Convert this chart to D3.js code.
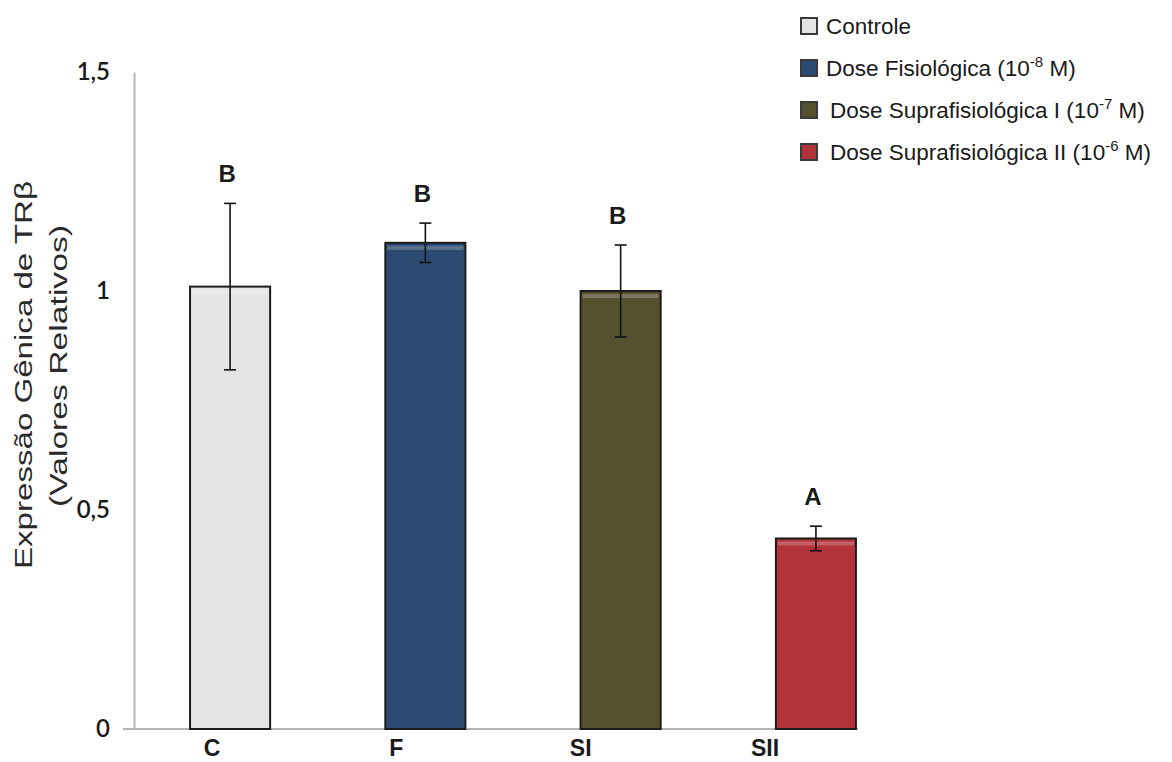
<!DOCTYPE html>
<html>
<head>
<meta charset="utf-8">
<script src="https://cdn.jsdelivr.net/npm/d3@7"></script>
<style>
    body { margin: 0; background: #fff; }
    svg { display: block; }
</style>
</head>
<body>
<div id="chart"></div>
<script>
/* * * * * * * * * * * * * * * * * * *
*      TRβ GENE EXPRESSION BARS      *
* * * * * * * * * * * * * * * * * * */

// data
const categories = ["C", "F", "SI", "SII"];
const means = [1.01, 1.11, 1.00, 0.435];
const errors = [0.19, 0.045, 0.105, 0.028];
const letters = ["B", "B", "B", "A"];
const yTicks = [0, 0.5, 1, 1.5];
const yTickLabels = ["0", "0,5", "1", "1,5"];
const legendNames = ["Controle", "Dose Fisiológica (10", "Dose Suprafisiológica I (10", "Dose Suprafisiológica II (10"];
const legendExps = ["", "-8", "-7", "-6"];

// styles
const barColors = ["#e4e4e4", "#2a4a72", "#55512f", "#b2333a"];

class ExpressionChart {
    constructor(parentElement) {
        this.parentElement = parentElement;
        this.initVis();
    }

    initVis() {
        const vis = this;

        vis.width = 1172;
        vis.height = 762;

        vis.svg = d3.select(`#${vis.parentElement}`)
            .append("svg")
            .attr("width", vis.width)
            .attr("height", vis.height);

        // Scales
        vis.x = d3.scaleBand()
            .domain(categories)
            .range([134, 912])
            .paddingInner(0.59)
            .paddingOuter(0.287);

        vis.y = d3.scaleLinear()
            .domain([0, 1.5])
            .range([729, 72]);

        // category labels sit a bit left of the bars in the original
        vis.xLabel = d3.scalePoint()
            .domain(categories)
            .range([212, 765]);

        // Y axis
        const yAxis = vis.svg.append("g")
            .attr("transform", "translate(134,0)")
            .call(d3.axisLeft(vis.y)
                .tickValues(yTicks)
                .tickFormat((d, i) => yTickLabels[i])
                .tickSize(0)
                .tickPadding(24));

        yAxis.select(".domain")
            .attr("stroke", "#b5b5b5")
            .attr("stroke-width", 2);

        yAxis.selectAll("text")
            .attr("font-family", "Lato, 'Open Sans', sans-serif")
            .attr("font-size", 24)
            .attr("font-weight", 600)
            .attr("fill", "#1a1a1a");

        // baseline
        vis.svg.append("line")
            .attr("x1", 123)
            .attr("x2", vis.x("SII") + vis.x.bandwidth() + 2)
            .attr("y1", vis.y(0))
            .attr("y2", vis.y(0))
            .attr("stroke", "#b5b5b5")
            .attr("stroke-width", 2);

        // Bars
        vis.svg.selectAll(".bar")
            .data(categories)
            .join("rect")
            .attr("class", "bar")
            .attr("x", d => vis.x(d))
            .attr("y", (d, i) => vis.y(means[i]))
            .attr("width", vis.x.bandwidth())
            .attr("height", (d, i) => vis.y(0) - vis.y(means[i]))
            .attr("fill", (d, i) => barColors[i])
            .attr("stroke", "#1c1c1c")
            .attr("stroke-width", 2);

        // light strip under bar tops
        vis.svg.selectAll(".shine")
            .data(categories)
            .join("rect")
            .attr("class", "shine")
            .attr("x", d => vis.x(d) + 2)
            .attr("y", (d, i) => vis.y(means[i]) + 3)
            .attr("width", vis.x.bandwidth() - 4)
            .attr("height", 4)
            .attr("fill", "#fff")
            .attr("opacity", 0.22);

        // Error bars
        const cx = d => vis.x(d) + vis.x.bandwidth() / 2;
        const err = vis.svg.append("g")
            .attr("stroke", "#111")
            .attr("stroke-width", 1.6);

        err.selectAll(".stem")
            .data(categories)
            .join("line")
            .attr("x1", cx)
            .attr("x2", cx)
            .attr("y1", (d, i) => vis.y(means[i] + errors[i]))
            .attr("y2", (d, i) => vis.y(means[i] - errors[i]));

        [1, -1].forEach(s => {
            err.selectAll(null)
                .data(categories)
                .join("line")
                .attr("x1", d => cx(d) - 6)
                .attr("x2", d => cx(d) + 6)
                .attr("y1", (d, i) => vis.y(means[i] + s * errors[i]))
                .attr("y2", (d, i) => vis.y(means[i] + s * errors[i]));
        });

        // significance letters
        vis.svg.selectAll(".sig")
            .data(categories)
            .join("text")
            .attr("class", "sig")
            .attr("x", d => cx(d) - 3)
            .attr("y", (d, i) => vis.y(means[i] + errors[i]) - 21)
            .attr("text-anchor", "middle")
            .attr("font-family", "'Liberation Sans', Arial, sans-serif")
            .attr("font-weight", "bold")
            .attr("font-size", 24)
            .attr("fill", "#1a1a1a")
            .text((d, i) => letters[i]);

        // category labels
        vis.svg.selectAll(".cat")
            .data(categories)
            .join("text")
            .attr("class", "cat")
            .attr("x", d => vis.xLabel(d))
            .attr("y", 756)
            .attr("text-anchor", "middle")
            .attr("font-family", "'Liberation Sans', Arial, sans-serif")
            .attr("font-weight", "bold")
            .attr("font-size", 23)
            .attr("fill", "#1a1a1a")
            .text(d => d);

        // Y title (stretched like the source)
        const title = vis.svg.append("g")
            .attr("font-family", "'Liberation Sans', Arial, sans-serif")
            .attr("font-size", 23)
            .attr("fill", "#2a2a2a");

        title.append("text")
            .attr("transform", "translate(32,375) rotate(-90)")
            .attr("text-anchor", "middle")
            .attr("textLength", 388)
            .attr("lengthAdjust", "spacingAndGlyphs")
            .text("Expressão Gênica de TRβ");

        title.append("text")
            .attr("transform", "translate(67,366) rotate(-90)")
            .attr("text-anchor", "middle")
            .attr("textLength", 282)
            .attr("lengthAdjust", "spacingAndGlyphs")
            .text("(Valores Relativos)");

        // Legend
        const legend = vis.svg.append("g")
            .attr("transform", "translate(801,26)");

        const rows = legend.selectAll(".row")
            .data(legendNames)
            .join("g")
            .attr("class", "row")
            .attr("transform", (d, i) => `translate(0,${i * 42})`);

        rows.append("rect")
            .attr("x", 0)
            .attr("y", -8)
            .attr("width", 16)
            .attr("height", 16)
            .attr("fill", (d, i) => barColors[i])
            .attr("stroke", "#3a3a3a")
            .attr("stroke-width", 2);

        const txt = rows.append("text")
            .attr("x", (d, i) => i < 2 ? 25 : 29)
            .attr("y", 8)
            .attr("font-family", "'Liberation Sans', Arial, sans-serif")
            .attr("font-size", 22.5)
            .attr("fill", "#1a1a1a");

        txt.append("tspan").text(d => d);
        txt.filter((d, i) => legendExps[i] !== "")
            .append("tspan")
            .attr("dy", -9)
            .attr("font-size", 15)
            .text(d => legendExps[legendNames.indexOf(d)]);
        txt.filter((d, i) => legendExps[i] !== "")
            .append("tspan")
            .attr("dy", 9)
            .text(" M)");
    }
}

new ExpressionChart("chart");
</script>
</body>
</html>
